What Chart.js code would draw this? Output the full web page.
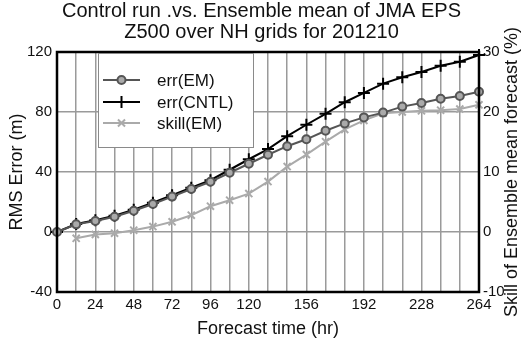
<!DOCTYPE html>
<html>
<head>
<meta charset="utf-8">
<script src="https://cdn.jsdelivr.net/npm/chart.js@4/dist/chart.umd.min.js"></script>
<style>
  html, body { margin: 0; padding: 0; background: #fff; }
  #wrap { width: 523px; height: 342px; }
</style>
</head>
<body>
<div id="wrap"><canvas id="c"></canvas></div>
<script>
const hours = [0, 12, 24, 36, 48, 60, 72, 84, 96, 108, 120, 132, 144, 156, 168, 180, 192, 204, 216, 228, 240, 252, 264];
const errEM = [0, 5.1, 7.3, 10.2, 14.2, 18.7, 23.6, 28.7, 33.5, 39.5, 45.5, 51.5, 57.2, 61.8, 67.5, 72.4, 76.4, 79.6, 83.6, 86, 88.8, 90.7, 93.5];
const errCNTL = [0, 5.3, 7.8, 10.8, 14.8, 19.5, 24.5, 29.5, 34.5, 41.5, 48.5, 55.3, 63.9, 71.5, 78.8, 86.5, 92.7, 98.9, 103.2, 106.7, 110.8, 113.5, 118];
const skillEM = [null, -1.05, -0.4, -0.2, 0.3, 0.9, 1.7, 2.8, 4.3, 5.3, 6.4, 8.4, 10.9, 12.9, 15.05, 17.1, 18.6, 19.8, 20, 20.2, 20.3, 20.5, 21.2];
const xTickLabels = [0, 24, 48, 72, 96, 120, 156, 192, 228, 264];
const titleLines = ["Control run .vs. Ensemble mean of JMA EPS", "Z500 over NH grids for 201210"];

const FONT = "'Liberation Sans', Arial, Helvetica, sans-serif";
const GRID = "#9a9a9a";

function pts(vals) {
  return hours.map((h, i) => ({ x: h, y: vals[i] })).filter(p => p.y !== null);
}

// frame, legend box and right-hand axis title
const extras = {
  id: "extras",
  afterDatasetsDraw(chart) {
    const ctx = chart.ctx;
    const a = chart.chartArea;
    ctx.save();
    ctx.strokeStyle = "#000";
    ctx.lineWidth = 2.5;
    ctx.strokeRect(a.left, a.top, a.right - a.left, a.bottom - a.top);

    // legend
    const bx = 98, by = 53, bw = 155, bh = 94;
    ctx.fillStyle = "#fff";
    ctx.fillRect(bx, by, bw, bh);
    ctx.strokeStyle = "#8a8a8a";
    ctx.lineWidth = 1;
    ctx.strokeRect(bx + 0.5, by + 0.5, bw, bh);
    const rows = [80, 102, 123];
    chart.data.datasets.forEach((ds, i) => {
      const y = rows[i];
      ctx.strokeStyle = ds.borderColor;
      ctx.lineWidth = ds.borderWidth;
      ctx.beginPath();
      ctx.moveTo(103, y);
      ctx.lineTo(140, y);
      ctx.stroke();
      ctx.fillStyle = ds.pointBackgroundColor || ds.backgroundColor;
      Chart.helpers.drawPoint(ctx, {
        pointStyle: ds.pointStyle,
        radius: ds.pointRadius,
        borderWidth: ds.pointBorderWidth
      }, 121.5, y);
      ctx.fillStyle = "#111";
      ctx.font = "17px " + FONT;
      ctx.textAlign = "left";
      ctx.textBaseline = "middle";
      ctx.fillText(ds.label, 157, y + 1);
    });
    ctx.restore();
  },
  afterDraw(chart) {
    const ctx = chart.ctx;
    const a = chart.chartArea;
    ctx.save();
    ctx.translate(512, (a.top + a.bottom) / 2);
    ctx.rotate(-Math.PI / 2);
    ctx.fillStyle = "#111";
    ctx.font = "18px " + FONT;
    ctx.textAlign = "center";
    ctx.textBaseline = "middle";
    ctx.fillText("Skill of Ensemble mean forecast (%)", 0, 0);
    ctx.restore();
  }
};

Chart.defaults.font.family = FONT;
Chart.defaults.color = "#111";

new Chart(document.getElementById("c"), {
  type: "line",
  data: {
    datasets: [
      {
        label: "err(EM)",
        data: pts(errEM),
        yAxisID: "y",
        borderColor: "#555",
        backgroundColor: "#aaa",
        borderWidth: 2,
        pointStyle: "circle",
        pointRadius: 4,
        pointBorderWidth: 2,
        pointBorderColor: "#555",
        pointBackgroundColor: "#aaa",
        clip: false
      },
      {
        label: "err(CNTL)",
        data: pts(errCNTL),
        yAxisID: "y",
        borderColor: "#000",
        backgroundColor: "#000",
        borderWidth: 2,
        pointStyle: "cross",
        pointRadius: 6,
        pointBorderWidth: 2,
        clip: false
      },
      {
        label: "skill(EM)",
        data: pts(skillEM),
        yAxisID: "y1",
        borderColor: "#aaa",
        backgroundColor: "#aaa",
        borderWidth: 2,
        pointStyle: "crossRot",
        pointRadius: 5,
        pointBorderWidth: 2,
        clip: false
      }
    ]
  },
  options: {
    responsive: true,
    maintainAspectRatio: false,
    animation: false,
    layout: { padding: 0 },
    elements: { line: { tension: 0 } },
    plugins: {
      legend: { display: false },
      tooltip: { enabled: false },
      title: {
        display: true,
        text: titleLines,
        color: "#111",
        font: { size: 20, weight: "normal", family: FONT, lineHeight: 1.05 },
        padding: { top: 1, bottom: 9 }
      }
    },
    scales: {
      x: {
        type: "linear",
        min: 0,
        max: 264,
        afterFit(s) { s.height = 50; },
        grid: { color: GRID, lineWidth: 1.5, drawTicks: false },
        border: { display: false },
        ticks: {
          stepSize: 12,
          autoSkip: false,
          maxRotation: 0,
          padding: 4,
          font: { size: 15 },
          callback: v => (xTickLabels.includes(v) ? String(v) : "")
        },
        title: {
          display: true,
          text: "Forecast time (hr)",
          font: { size: 18 },
          padding: { top: 0, bottom: 2 }
        }
      },
      y: {
        position: "left",
        min: -40,
        max: 120,
        afterFit(s) { s.width = 57; },
        grid: { color: GRID, lineWidth: 1.5, drawTicks: false },
        border: { display: false },
        ticks: { stepSize: 40, padding: 5, font: { size: 15 } },
        title: {
          display: true,
          text: "RMS Error (m)",
          font: { size: 18 },
          padding: { top: 6, bottom: 0 }
        }
      },
      y1: {
        position: "right",
        min: -10,
        max: 30,
        afterFit(s) { s.width = 44; },
        grid: { display: false, drawTicks: false },
        border: { display: false },
        ticks: { stepSize: 10, padding: 4, font: { size: 15 } }
      }
    }
  },
  plugins: [extras]
});
</script>
</body>
</html>
